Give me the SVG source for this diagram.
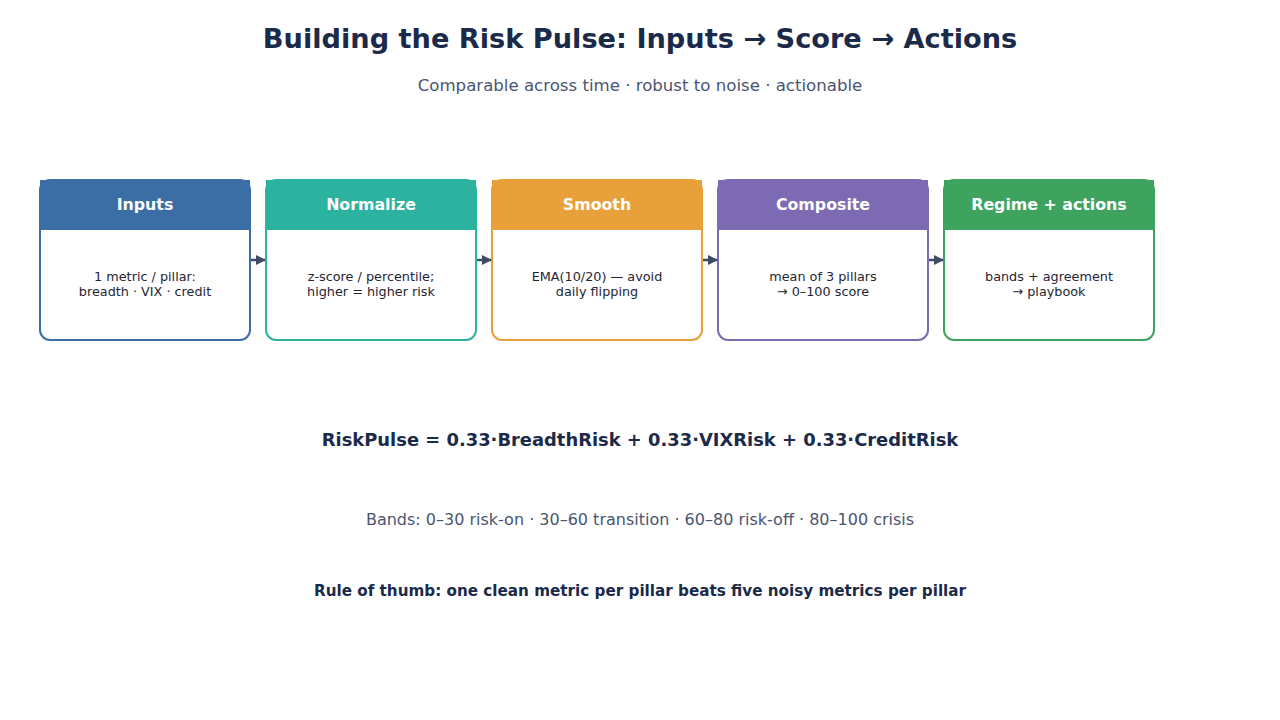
<svg xmlns="http://www.w3.org/2000/svg" width="1280" height="720" viewBox="0 0 1280 720">
<defs>
<marker id="ah" viewBox="0 0 10 10" refX="9" refY="5" markerWidth="10" markerHeight="10" markerUnits="userSpaceOnUse" orient="auto"><path d="M0,0 L10,5 L0,10 z" fill="#3f4a63"/></marker>
</defs>
<style>
text{font-family:"DejaVu Sans","Liberation Sans",sans-serif;text-anchor:middle}
.title{font-size:27.2px;font-weight:bold;fill:#1c2a4a}
.sub{font-size:16.6px;fill:#4a5570}
.hd{font-size:15.8px;font-weight:bold;fill:#ffffff}
.bd{font-size:12.8px;fill:#1f2533}
.box{fill:#ffffff;stroke-width:2}
.conn{stroke:#3f4a63;stroke-width:2.5;fill:none}
.f{font-size:17.9px;font-weight:bold;fill:#1c2a4a}
.b{font-size:16px;fill:#4a5570}
.r{font-size:15.2px;font-weight:bold;fill:#1c2a4a}
</style>
<rect width="1280" height="720" fill="#ffffff"/>
<text class="title" x="640" y="48">Building the Risk Pulse: Inputs → Score → Actions</text>
<text class="sub" x="640" y="91">Comparable across time · robust to noise · actionable</text>
<g id="n1">
<rect class="box" x="40" y="180" width="210" height="160" rx="10" stroke="#3a6ea5"/>
<rect x="40" y="180" width="210" height="50" fill="#3a6ea5"/>
<text class="hd" x="145" y="210">Inputs</text>
<text class="bd" x="145" y="281">1 metric / pillar:</text>
<text class="bd" x="145" y="296">breadth · VIX · credit</text>
</g>
<g id="n2">
<rect class="box" x="266" y="180" width="210" height="160" rx="10" stroke="#2bb3a0"/>
<rect x="266" y="180" width="210" height="50" fill="#2bb3a0"/>
<text class="hd" x="371" y="210">Normalize</text>
<text class="bd" x="371" y="281">z-score / percentile;</text>
<text class="bd" x="371" y="296">higher = higher risk</text>
</g>
<g id="n3">
<rect class="box" x="492" y="180" width="210" height="160" rx="10" stroke="#e8a03a"/>
<rect x="492" y="180" width="210" height="50" fill="#e8a03a"/>
<text class="hd" x="597" y="210">Smooth</text>
<text class="bd" x="597" y="281">EMA(10/20) — avoid</text>
<text class="bd" x="597" y="296">daily flipping</text>
</g>
<g id="n4">
<rect class="box" x="718" y="180" width="210" height="160" rx="10" stroke="#7c6bb3"/>
<rect x="718" y="180" width="210" height="50" fill="#7c6bb3"/>
<text class="hd" x="823" y="210">Composite</text>
<text class="bd" x="823" y="281">mean of 3 pillars</text>
<text class="bd" x="823" y="296">→ 0–100 score</text>
</g>
<g id="n5">
<rect class="box" x="944" y="180" width="210" height="160" rx="10" stroke="#3ea35e"/>
<rect x="944" y="180" width="210" height="50" fill="#3ea35e"/>
<text class="hd" x="1049" y="210">Regime + actions</text>
<text class="bd" x="1049" y="281">bands + agreement</text>
<text class="bd" x="1049" y="296">→ playbook</text>
</g>
<g id="connectors">
<line class="conn" x1="251" y1="260" x2="265" y2="260" marker-end="url(#ah)"/>
<line class="conn" x1="477" y1="260" x2="491" y2="260" marker-end="url(#ah)"/>
<line class="conn" x1="703" y1="260" x2="717" y2="260" marker-end="url(#ah)"/>
<line class="conn" x1="929" y1="260" x2="943" y2="260" marker-end="url(#ah)"/>
</g>
<text class="f" x="640" y="446">RiskPulse = 0.33·BreadthRisk + 0.33·VIXRisk + 0.33·CreditRisk</text>
<text class="b" x="640" y="525">Bands: 0–30 risk-on · 30–60 transition · 60–80 risk-off · 80–100 crisis</text>
<text class="r" x="640" y="596">Rule of thumb: one clean metric per pillar beats five noisy metrics per pillar</text>
</svg>
